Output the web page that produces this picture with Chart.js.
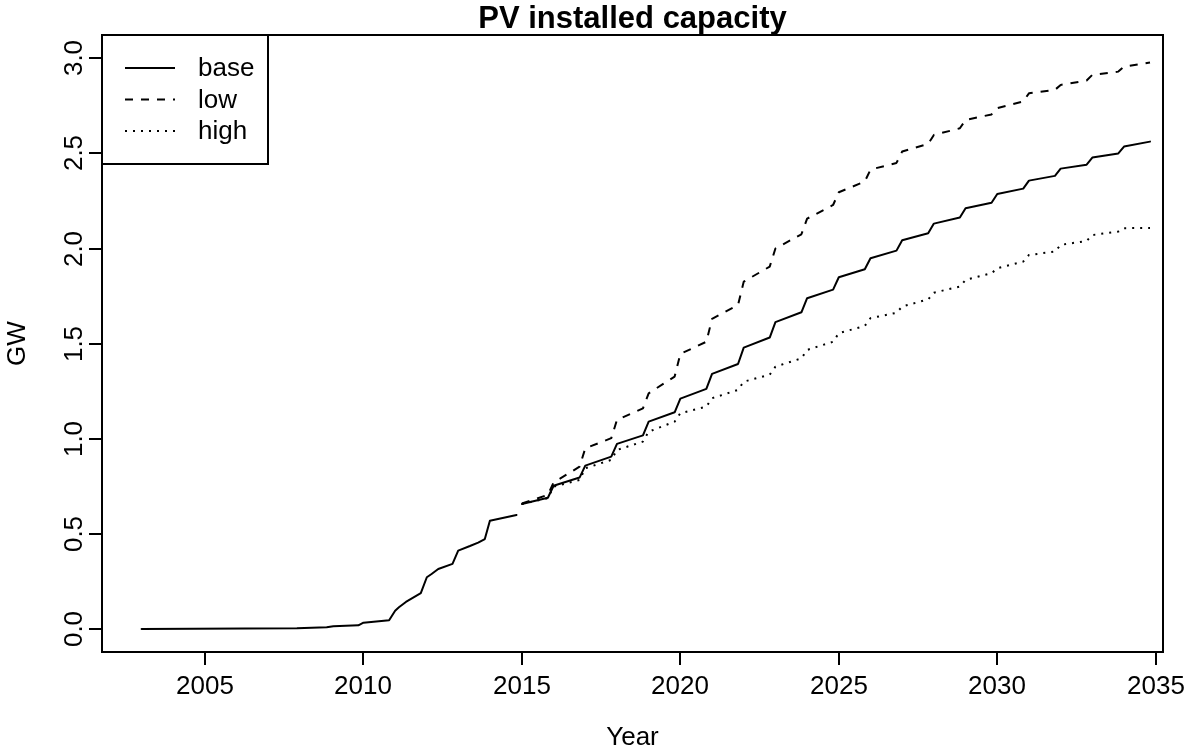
<!DOCTYPE html>
<html>
<head>
<meta charset="utf-8">
<script src="https://cdn.jsdelivr.net/npm/chart.js@4.4.0/dist/chart.umd.min.js"></script>
<style>
  html, body { margin: 0; padding: 0; background: #fff; }
</style>
</head>
<body>
<canvas id="pv" width="1186" height="748"></canvas>
<script>
// Historical installed PV (GW)
const histYears = [2003.0, 2007.9, 2008.84, 2009.05, 2009.84, 2010.0, 2010.81, 2011.0, 2011.12, 2011.34,
  2011.81, 2012.0, 2012.15, 2012.36, 2012.81, 2012.99, 2013.36, 2013.62, 2013.83, 2013.99, 2014.83];
const histGW = [0.0, 0.004, 0.009, 0.014, 0.019, 0.033, 0.046, 0.096, 0.114, 0.142,
  0.188, 0.272, 0.289, 0.315, 0.342, 0.412, 0.436, 0.454, 0.473, 0.569, 0.599];

// Scenario projections: start of year and just before the year-end step
const scenarioYears = [2015.0, 2015.82, 2016.0, 2016.82, 2017.0, 2017.82, 2018.0, 2018.82, 2019.0, 2019.82,
  2020.0, 2020.82, 2021.0, 2021.82, 2022.0, 2022.82, 2023.0, 2023.82, 2024.0, 2024.82,
  2025.0, 2025.82, 2026.0, 2026.82, 2027.0, 2027.82, 2028.0, 2028.82, 2029.0, 2029.82,
  2030.0, 2030.82, 2031.0, 2031.82, 2032.0, 2032.82, 2033.0, 2033.82, 2034.0, 2034.82];
const baseGW = [0.657, 0.690, 0.753, 0.796, 0.859, 0.906, 0.973, 1.018, 1.090, 1.139,
  1.211, 1.262, 1.341, 1.393, 1.479, 1.532, 1.613, 1.665, 1.739, 1.784,
  1.849, 1.891, 1.949, 1.989, 2.044, 2.080, 2.131, 2.163, 2.212, 2.241,
  2.287, 2.315, 2.357, 2.382, 2.420, 2.441, 2.478, 2.500, 2.536, 2.562];
const lowGW = [0.660, 0.705, 0.770, 0.853, 0.950, 1.003, 1.099, 1.160, 1.239, 1.327,
  1.446, 1.510, 1.630, 1.703, 1.826, 1.905, 2.000, 2.075, 2.157, 2.229,
  2.296, 2.352, 2.415, 2.450, 2.510, 2.550, 2.597, 2.632, 2.676, 2.705,
  2.738, 2.773, 2.816, 2.834, 2.860, 2.883, 2.913, 2.930, 2.956, 2.978];
const highGW = [0.657, 0.688, 0.748, 0.783, 0.845, 0.889, 0.941, 0.985, 1.037, 1.090,
  1.134, 1.169, 1.213, 1.257, 1.300, 1.337, 1.379, 1.423, 1.467, 1.510,
  1.555, 1.593, 1.634, 1.662, 1.695, 1.733, 1.768, 1.800, 1.835, 1.870,
  1.896, 1.931, 1.966, 1.984, 2.019, 2.040, 2.071, 2.089, 2.107, 2.108];

const xTicks = [2005, 2010, 2015, 2020, 2025, 2030, 2035];
const yTicks = [0, 0.5, 1.0, 1.5, 2.0, 2.5, 3.0];
const legendNames = ['base', 'low', 'high'];
const dashes = [[], [8, 8], [2, 6]];

const FONT = '"Liberation Sans", Arial, Helvetica, sans-serif';
const TXT = 26;

function pairs(xs, ys) {
  return xs.map((x, i) => ({ x, y: ys[i] }));
}

// base-graphics style frame, axes, title and legend
const rFrame = {
  id: 'rFrame',
  afterDraw(chart) {
    const { ctx, chartArea: a, scales: { x, y } } = chart;
    ctx.save();
    ctx.strokeStyle = '#000';
    ctx.fillStyle = '#000';
    ctx.lineWidth = 2;
    ctx.setLineDash([]);
    ctx.strokeRect(a.left, a.top, a.right - a.left, a.bottom - a.top);

    ctx.font = TXT + 'px ' + FONT;
    ctx.textAlign = 'center';
    ctx.textBaseline = 'alphabetic';
    xTicks.forEach(v => {
      const px = Math.round(x.getPixelForValue(v));
      ctx.beginPath();
      ctx.moveTo(px, a.bottom);
      ctx.lineTo(px, a.bottom + 13);
      ctx.stroke();
      ctx.fillText(String(v), px, a.bottom + 42);
    });
    yTicks.forEach(v => {
      const py = Math.round(y.getPixelForValue(v));
      ctx.beginPath();
      ctx.moveTo(a.left - 13, py);
      ctx.lineTo(a.left, py);
      ctx.stroke();
      ctx.save();
      ctx.translate(a.left - 20, py);
      ctx.rotate(-Math.PI / 2);
      ctx.fillText(v.toFixed(1), 0, 0);
      ctx.restore();
    });

    const cx = (a.left + a.right) / 2;
    const cy = (a.top + a.bottom) / 2;
    ctx.fillText('Year', cx, a.bottom + 93);
    ctx.save();
    ctx.translate(25, cy);
    ctx.rotate(-Math.PI / 2);
    ctx.fillText('GW', 0, 0);
    ctx.restore();

    ctx.font = 'bold ' + Math.round(TXT * 1.2) + 'px ' + FONT;
    ctx.fillText('PV installed capacity', cx, 28);

    // legend, top left corner of the plot
    ctx.strokeRect(a.left, a.top, 166, 129);
    ctx.font = TXT + 'px ' + FONT;
    ctx.textAlign = 'left';
    ctx.textBaseline = 'middle';
    legendNames.forEach((name, i) => {
      const ly = a.top + 33 + i * 31.5;
      ctx.setLineDash(dashes[i]);
      ctx.beginPath();
      ctx.moveTo(a.left + 23, ly);
      ctx.lineTo(a.left + 73, ly);
      ctx.stroke();
      ctx.setLineDash([]);
      ctx.fillText(name, a.left + 96, ly + 1);
    });
    ctx.restore();
  }
};

const lineStyle = {
  borderColor: '#000', borderWidth: 2, borderJoinStyle: 'round',
  pointRadius: 0, tension: 0, fill: false
};

new Chart(document.getElementById('pv'), {
  type: 'line',
  data: {
    datasets: [
      { label: 'history', data: pairs(histYears, histGW), ...lineStyle, borderCapStyle: 'round' },
      { label: 'base', data: pairs(scenarioYears, baseGW), ...lineStyle, borderCapStyle: 'round' },
      { label: 'low', data: pairs(scenarioYears, lowGW), ...lineStyle, borderDash: dashes[1] },
      { label: 'high', data: pairs(scenarioYears, highGW), ...lineStyle, borderDash: dashes[2] }
    ]
  },
  options: {
    responsive: false,
    animation: false,
    devicePixelRatio: 1,
    layout: { padding: { left: 102, top: 35, right: 23, bottom: 96 } },
    plugins: { legend: { display: false }, tooltip: { enabled: false }, title: { display: false } },
    scales: {
      x: { type: 'linear', min: 2001.75, max: 2035.23, display: false },
      y: { type: 'linear', min: -0.121, max: 3.1225, display: false }
    }
  },
  plugins: [rFrame]
});
</script>
</body>
</html>
